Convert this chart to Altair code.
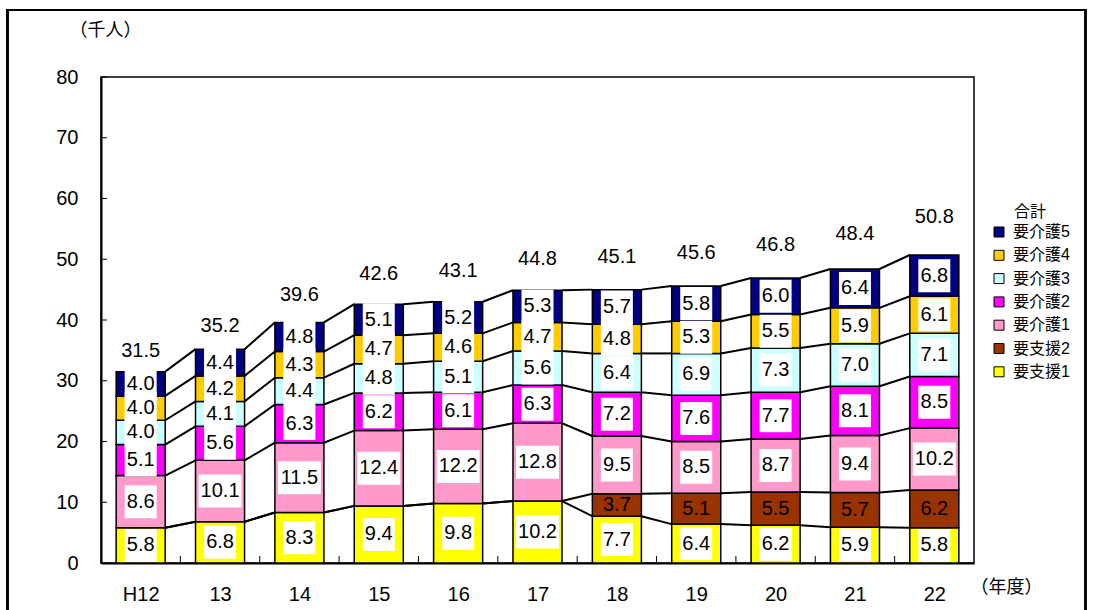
import altair as alt
import pandas as pd

FONT = "Liberation Sans, Noto Sans CJK JP, sans-serif"

years = ["H12", "13", "14", "15", "16", "17", "18", "19", "20", "21", "22"]

# legend order, top to bottom
series = ["要介護5", "要介護4", "要介護3", "要介護2", "要介護1", "要支援2", "要支援1"]
colors = ["#000080", "#FFCC00", "#CCFFFF", "#FF00FF", "#FF99CC", "#993300", "#FFFF00"]

shien1 = [5.8, 6.8, 8.3, 9.4, 9.8, 10.2, 7.7, 6.4, 6.2, 5.9, 5.8]
shien2 = [0, 0, 0, 0, 0, 0, 3.7, 5.1, 5.5, 5.7, 6.2]
kaigo1 = [8.6, 10.1, 11.5, 12.4, 12.2, 12.8, 9.5, 8.5, 8.7, 9.4, 10.2]
kaigo2 = [5.1, 5.6, 6.3, 6.2, 6.1, 6.3, 7.2, 7.6, 7.7, 8.1, 8.5]
kaigo3 = [4.0, 4.1, 4.4, 4.8, 5.1, 5.6, 6.4, 6.9, 7.3, 7.0, 7.1]
kaigo4 = [4.0, 4.2, 4.3, 4.7, 4.6, 4.7, 4.8, 5.3, 5.5, 5.9, 6.1]
kaigo5 = [4.0, 4.4, 4.8, 5.1, 5.2, 5.3, 5.7, 5.8, 6.0, 6.4, 6.8]
totals = [31.5, 35.2, 39.6, 42.6, 43.1, 44.8, 45.1, 45.6, 46.8, 48.4, 50.8]

y_ticks = [0, 10, 20, 30, 40, 50, 60, 70, 80]

# stacking order, bottom to top
stack = [("要支援1", shien1), ("要支援2", shien2), ("要介護1", kaigo1),
         ("要介護2", kaigo2), ("要介護3", kaigo3), ("要介護4", kaigo4),
         ("要介護5", kaigo5)]

HW = 0.309  # half bar width in category units
NUM = 20    # size of the numeric labels

rows, tops = [], {}
for i, yr in enumerate(years):
    base = 0.0
    for k, (name, vals) in enumerate(stack):
        v = vals[i]
        rows.append(dict(idx=i, year=yr, series=name, order=k, value=v,
                         y0=base, y1=base + v, mid=base + v / 2,
                         label=f"{v:.1f}", boxed=name != "要支援2"))
        base += v
        tops.setdefault(name, []).append(base)
seg = pd.DataFrame(rows)
seg = seg[seg["value"] > 0]

links = []
for name, _ in stack:
    t = tops[name]
    for i in range(len(years) - 1):
        links.append(dict(idx=i, series=name, ya=t[i], yb=t[i + 1]))
links = pd.DataFrame(links)

tot = pd.DataFrame({"idx": range(len(years)), "total": totals})
yt = pd.DataFrame({"v": y_ticks})
xb = pd.DataFrame({"b": [i + 0.5 for i in range(len(years) - 1)]})

label_expr = "[" + ",".join(f"'{y}'" for y in years) + "][datum.value]"

xscale = alt.Scale(domain=[-0.5, len(years) - 0.5], nice=False, zero=False)
yscale = alt.Scale(domain=[0, 80], nice=False)

x_axis = alt.Axis(values=list(range(len(years))), labelExpr=label_expr,
                  ticks=False, grid=False, labelFontSize=NUM, labelFont=FONT,
                  labelColor="black", labelPadding=21, domainColor="black",
                  domainWidth=2, title="（年度）", titleFont=FONT,
                  titleFontSize=18, titleFontWeight="normal", titleAngle=0,
                  titleX=905, titleY=24, titleAlign="center",
                  titleBaseline="middle", titleColor="black")
y_axis = alt.Axis(values=y_ticks, ticks=False, tickSize=0, grid=False,
                  labelFontSize=NUM, labelFont=FONT, labelColor="black",
                  labelPadding=23, domainColor="black", domainWidth=2,
                  title="（千人）", titleFont=FONT, titleFontSize=18,
                  titleFontWeight="normal", titleAngle=0, titleX=4,
                  titleY=-47, titleAlign="center", titleBaseline="middle",
                  titleColor="black")

legend = alt.Legend(title="合計", orient="none", legendX=890, legendY=127,
                    symbolType="square", symbolSize=100,
                    symbolStrokeColor="black", symbolStrokeWidth=1,
                    labelFontSize=16, labelFont=FONT, labelColor="black",
                    titleFontSize=16, titleFont=FONT, titleFontWeight="normal",
                    titleColor="black", titleAnchor="middle",
                    titleAlign="center", titlePadding=4, rowPadding=7.3,
                    labelOffset=6, padding=0)

bars = alt.Chart(seg).transform_calculate(
    xa=f"datum.idx - {HW}", xb=f"datum.idx + {HW}"
).mark_rect(stroke="black", strokeWidth=1.5).encode(
    x=alt.X("xa:Q", scale=xscale, axis=x_axis),
    x2="xb:Q",
    y=alt.Y("y0:Q", scale=yscale, axis=y_axis),
    y2="y1:Q",
    color=alt.Color("series:N", scale=alt.Scale(domain=series, range=colors),
                    legend=legend),
)

lines = alt.Chart(links).transform_calculate(
    xa=f"datum.idx + {HW}", xb=f"datum.idx + 1 - {HW}"
).mark_rule(color="black", strokeWidth=2).encode(
    x=alt.X("xa:Q", scale=xscale), x2="xb:Q",
    y=alt.Y("ya:Q", scale=yscale), y2="yb:Q",
)

boxed = alt.Chart(seg).transform_filter("datum.boxed").transform_calculate(
    n="length(datum.label)")
box_short = boxed.transform_filter("datum.n < 4").mark_rect(
    fill="white", width=32, height=33).encode(
    x=alt.X("idx:Q", scale=xscale), y=alt.Y("mid:Q", scale=yscale))
box_long = boxed.transform_filter("datum.n >= 4").mark_rect(
    fill="white", width=43, height=33).encode(
    x=alt.X("idx:Q", scale=xscale), y=alt.Y("mid:Q", scale=yscale))

texts = alt.Chart(seg).mark_text(fontSize=NUM, font=FONT, color="black",
                                 baseline="middle", align="center").encode(
    x=alt.X("idx:Q", scale=xscale), y=alt.Y("mid:Q", scale=yscale),
    text="label:N")

yticks = alt.Chart(yt).mark_rule(color="black", strokeWidth=1).encode(
    y=alt.Y("v:Q", scale=yscale), x=alt.value(0), x2=alt.value(6))
xticks = alt.Chart(xb).mark_rule(color="black", strokeWidth=1).encode(
    x=alt.X("b:Q", scale=xscale), y=alt.value(486), y2=alt.value(479))

frame = alt.Chart(tot).mark_rect(filled=False, stroke="black",
                                 strokeWidth=1.5, clip=False).encode(
    x=alt.value(-93.5), x2=alt.value(984.5),
    y=alt.value(-67), y2=alt.value(560))

main = alt.layer(bars, lines, box_short, box_long, texts, yticks, xticks)

total_text = alt.Chart(tot).mark_text(fontSize=NUM, font=FONT, color="black",
                                      baseline="middle", align="center",
                                      dy=7).encode(
    x=alt.X("idx:Q", scale=xscale),
    y=alt.Y("total:Q", scale=alt.Scale(domain=[0, 70], nice=False), axis=None),
    text=alt.Text("total:Q", format=".1f"))

chart = alt.layer(main, total_text, frame).resolve_scale(
    y="independent"
).properties(
    width=873, height=486, autosize="none",
    padding={"left": 101, "top": 77, "right": 120, "bottom": 47},
    background="white",
).configure_view(stroke="black", strokeWidth=1.5)

chart.save("out.html", embed_options={"renderer": "svg", "actions": False})
